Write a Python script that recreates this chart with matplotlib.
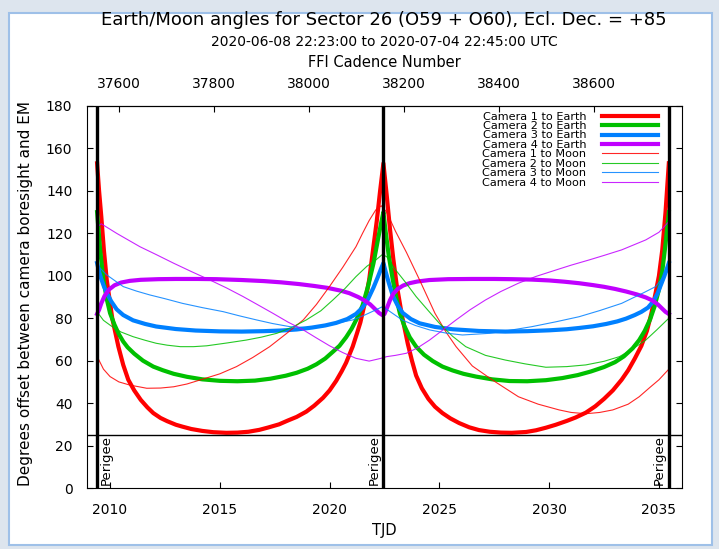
import matplotlib.pyplot as plt
from matplotlib.patches import Rectangle

# TJD of sector start, orbit perigee and sector end
perigee_tjd = [2009.41, 2022.45, 2035.45]
earth_limit = 25

# Camera-to-Earth angles (deg)
cam1_earth_tjd = [2009.41, 2009.5, 2009.6, 2009.72, 2009.85, 2010.1, 2010.38, 2010.6, 2010.83, 2011.1,
                  2011.4, 2011.7, 2011.97, 2012.3, 2012.6, 2013.0, 2013.3, 2013.7, 2014.2, 2014.7,
                  2015.3, 2015.8, 2016.3, 2016.8, 2017.2, 2017.7, 2018.1, 2018.5, 2018.94, 2019.3,
                  2019.7, 2020.0, 2020.3, 2020.55, 2020.75, 2021.05, 2021.25, 2021.4, 2021.6, 2021.8,
                  2022.0, 2022.15, 2022.3, 2022.45, 2022.6, 2022.75, 2022.9, 2023.05, 2023.3, 2023.56,
                  2023.75, 2023.94, 2024.2, 2024.5, 2024.8, 2025.14, 2025.5, 2025.9, 2026.36, 2026.8,
                  2027.3, 2027.8, 2028.3, 2028.95, 2029.4, 2029.85, 2030.3, 2030.8, 2031.2, 2031.67,
                  2032.1, 2032.5, 2032.9, 2033.3, 2033.6, 2033.9, 2034.2, 2034.45, 2034.65, 2034.85,
                  2035.0, 2035.15, 2035.3, 2035.45]
cam1_earth = [153, 140, 128, 112, 98, 80, 66.6, 58, 51, 46,
              41.5, 38, 35.3, 33, 31.5, 29.8, 28.9, 27.8, 26.9, 26.3,
              26.0, 26.1, 26.5, 27.4, 28.5, 30, 31.8, 33.5, 36, 38.8,
              42.5, 46, 50.5, 55, 59, 66.6, 73, 78, 87, 98,
              114, 126, 140, 153, 138, 122, 108, 96, 81, 68,
              60, 53, 47, 42, 38.3, 35.3, 32.8, 30.6, 28.6, 27.3,
              26.5, 26.1, 26.0, 26.4, 27.2, 28.4, 29.8, 31.6, 33.2, 35.5,
              38.5, 42, 46, 51, 55.5, 61, 67, 74, 82, 92,
              100, 112, 130, 153]

cam2_earth_tjd = [2009.41, 2009.55, 2009.7, 2009.85, 2010.0, 2010.2, 2010.4, 2010.6, 2010.8, 2011.1,
                  2011.5, 2011.97, 2012.4, 2012.9, 2013.5, 2014.2, 2015.0, 2015.8, 2016.6, 2017.3,
                  2018.0, 2018.5, 2019.0, 2019.4, 2019.8, 2020.15, 2020.45, 2020.75, 2021.0, 2021.25,
                  2021.5, 2021.75, 2022.0, 2022.2, 2022.35, 2022.45, 2022.55, 2022.7, 2022.88, 2023.05,
                  2023.2, 2023.4, 2023.65, 2023.94, 2024.3, 2024.7, 2025.14, 2025.6, 2026.1, 2026.67,
                  2027.4, 2028.2, 2029.0, 2029.85, 2030.6, 2031.3, 2031.9, 2032.5, 2033.0, 2033.4,
                  2033.8, 2034.1, 2034.35, 2034.6, 2034.8, 2035.0, 2035.15, 2035.3, 2035.45]
cam2_earth = [130, 112, 98, 89, 82.4, 77, 72.5, 69, 66.3, 63.3,
              60, 57.2, 55.5, 53.8, 52.4, 51.2, 50.5, 50.3, 50.6, 51.5,
              52.9, 54.3, 56.2, 58.3, 61, 64.2, 67, 71, 75, 80,
              86, 95, 106, 117, 125, 130, 121, 109, 98, 89,
              82.3, 76.5, 71, 66.6, 62.8, 59.8, 57.2, 55.4, 53.8, 52.5,
              51.2, 50.4, 50.3, 50.8, 51.8, 53.2, 54.9, 57, 59.3, 62,
              65.8, 69.7, 74, 79.5, 85.5, 93.5, 102, 115, 130]

cam3_earth_tjd = [2009.41, 2009.5, 2009.6, 2009.72, 2009.85, 2010.05, 2010.3, 2010.6, 2011.05, 2011.6,
                  2012.1, 2013.0, 2013.9, 2015.0, 2016.0, 2017.0, 2017.8, 2018.5, 2019.2, 2019.8,
                  2020.3, 2020.8, 2021.2, 2021.5, 2021.75, 2022.0, 2022.2, 2022.35, 2022.45, 2022.55,
                  2022.7, 2022.88, 2023.1, 2023.33, 2023.7, 2024.1, 2024.8, 2025.6, 2026.8, 2028.0,
                  2029.0, 2030.0, 2030.8, 2031.36, 2032.0, 2032.6, 2033.1, 2033.5, 2033.9, 2034.2,
                  2034.5, 2034.75, 2034.95, 2035.1, 2035.25, 2035.45]
cam3_earth = [106, 102, 98.5, 95, 92, 88, 84.2, 81.5, 79, 77.3,
              76.1, 74.9, 74.2, 73.8, 73.7, 73.9, 74.2, 74.7, 75.6, 76.6,
              77.8, 79.6, 82, 85, 89, 94.5, 99.5, 103.5, 106, 102,
              96.5, 90.5, 86, 82.5, 79.6, 77.6, 75.9, 74.8, 74, 73.7,
              73.9, 74.3, 74.8, 75.4, 76.2, 77.3, 78.5, 79.8, 81.5, 83,
              85, 88, 92, 96, 100, 106]

cam4_earth_tjd = [2009.41, 2009.5, 2009.6, 2009.75, 2009.95, 2010.2, 2010.5, 2010.9, 2011.4, 2012.2,
                  2013.0, 2014.0, 2014.85, 2016.0, 2017.0, 2017.8, 2018.6, 2019.3, 2019.9, 2020.5,
                  2020.9, 2021.3, 2021.6, 2021.85, 2022.05, 2022.25, 2022.4, 2022.5, 2022.6, 2022.75,
                  2022.9, 2023.1, 2023.35, 2023.64, 2024.0, 2024.55, 2025.4, 2026.5, 2027.5, 2028.3,
                  2029.2, 2030.0, 2030.7, 2031.36, 2032.0, 2032.5, 2033.0, 2033.5, 2034.0, 2034.4,
                  2034.7, 2034.95, 2035.15, 2035.3, 2035.45]
cam4_earth = [82, 84, 87, 90.5, 93.5, 95.5, 96.8, 97.6, 98.1, 98.4,
              98.5, 98.5, 98.4, 98.0, 97.5, 96.9, 96.1, 95.2, 94.3, 93,
              91.8, 90, 88.3, 86.5, 84.5, 82.5, 81.5, 82, 84.5, 88.5,
              91.5, 93.8, 95.4, 96.5, 97.3, 98, 98.4, 98.5, 98.5, 98.4,
              98.2, 97.8, 97.2, 96.5, 95.6, 94.8, 93.8, 92.6, 91.2, 89.8,
              88.4, 86.5, 84.5, 83, 82]

# Camera-to-Moon angles (deg)
cam1_moon_tjd = [2009.41, 2009.7, 2010.0, 2010.4, 2010.9, 2011.67, 2012.3, 2012.9, 2013.5, 2014.1,
                 2015.0, 2015.76, 2016.5, 2017.27, 2018.0, 2018.8, 2019.4, 2020.0, 2020.6, 2021.2,
                 2021.5, 2021.8, 2022.1, 2022.35, 2022.6, 2023.0, 2023.5, 2024.1, 2024.8, 2025.3,
                 2025.76, 2026.5, 2027.4, 2028.0, 2028.6, 2029.5, 2030.45, 2031.0, 2031.67, 2032.3,
                 2032.9, 2033.6, 2034.1, 2034.6, 2035.0, 2035.45]
cam1_moon = [62, 56, 52.5, 50, 48.5, 47, 47.1, 47.7, 49, 50.9,
             53.8, 57.2, 61.5, 66.6, 72.5, 79.2, 86.5, 95, 104, 113.7,
             120, 126, 131, 133, 130, 121, 111, 98, 82.3, 73.5,
             66.6, 57.5, 51, 47, 43, 39.5, 36.8, 35.6, 35, 35.6,
             36.8, 39.5, 43, 47.5, 51, 56]

cam2_moon_tjd = [2009.41, 2009.7, 2010.1, 2010.5, 2011.05, 2011.6, 2012.1, 2012.6, 2013.2, 2013.8,
                 2014.4, 2015.3, 2016.2, 2016.9, 2017.6, 2018.3, 2018.94, 2019.6, 2020.15, 2020.7,
                 2021.2, 2021.7, 2022.1, 2022.4, 2022.6, 2022.95, 2023.45, 2023.94, 2024.5, 2025.0,
                 2025.6, 2026.2, 2027.1, 2028.0, 2028.9, 2029.85, 2030.8, 2031.67, 2032.5, 2033.2,
                 2033.8, 2034.4, 2034.9, 2035.45]
cam2_moon = [83, 79, 76, 73.5, 71.3, 69.6, 68.2, 67.3, 66.6, 66.6,
             67, 68.3, 69.7, 71.1, 72.9, 75.8, 79.2, 83.5, 88.6, 94,
             99.6, 104.5, 107.4, 110, 109, 103.5, 97, 90.2, 83.5, 77.6,
             71.5, 66.6, 62.5, 60.3, 58.5, 56.9, 57.2, 58, 59.7, 61.9,
             65.5, 69.7, 74.5, 80]

cam3_moon_tjd = [2009.41, 2009.85, 2010.6, 2011.2, 2011.8, 2012.5, 2013.3, 2014.2, 2015.15, 2015.9,
                 2016.67, 2017.4, 2018.2, 2019.0, 2019.7, 2020.4, 2021.06, 2021.6, 2022.1, 2022.4,
                 2022.7, 2023.3, 2023.9, 2024.55, 2025.3, 2026.05, 2027.3, 2028.2, 2029.2, 2030.3,
                 2031.36, 2032.3, 2033.3, 2034.3, 2034.85, 2035.45]
cam3_moon = [105, 100.4, 94.9, 92.8, 91, 89.2, 87, 85, 83.1, 81.1,
             79.2, 77.5, 76, 75.6, 76, 77.8, 79.2, 81.5, 83.9, 85.4,
             83.5, 79.2, 76.6, 74.5, 73, 72.1, 72.9, 74.3, 76, 78.3,
             80.7, 83.6, 87, 92, 94.9, 102.7]

cam4_moon_tjd = [2009.41, 2009.6, 2010.3, 2011.36, 2012.1, 2012.9, 2013.7, 2014.55, 2015.3, 2016.06,
                 2016.7, 2017.42, 2018.1, 2018.8, 2019.4, 2020.0, 2020.6, 2021.2, 2021.8, 2022.3,
                 2022.6, 2023.0, 2023.5, 2024.0, 2024.55, 2025.1, 2025.76, 2026.4, 2027.1, 2027.8,
                 2028.6, 2029.4, 2030.3, 2031.0, 2031.8, 2032.5, 2033.3, 2034.4, 2035.0, 2035.45]
cam4_moon = [123, 124.5, 120, 113.7, 110, 105.9, 102, 98, 94.3, 90.2,
             86.5, 82.3, 78.2, 74.5, 70.7, 67, 63.8, 61.1, 59.8, 61,
             61.9, 62.5, 63.5, 66, 69.7, 74, 79.2, 84, 88.6, 92.6,
             96.5, 99.7, 102.7, 105, 107.4, 109.6, 112.2, 116.9, 120.5, 125.5]

# FFI cadence number vs TJD
cadence_ref = 37600
cadence_ref_tjd = 2010.41
cadences_per_day = 46.2
cadence_ticks = [37600, 37800, 38000, 38200, 38400, 38600]

colors = ["#ff0000", "#00c000", "#0080ff", "#c000ff"]
earth_series = [(cam1_earth_tjd, cam1_earth), (cam2_earth_tjd, cam2_earth),
                (cam3_earth_tjd, cam3_earth), (cam4_earth_tjd, cam4_earth)]
moon_series = [(cam1_moon_tjd, cam1_moon), (cam2_moon_tjd, cam2_moon),
               (cam3_moon_tjd, cam3_moon), (cam4_moon_tjd, cam4_moon)]

fig = plt.figure(figsize=(7.19, 5.49), dpi=100)
fig.patch.set_facecolor("#dde5ee")
# white panel with a light blue frame behind the plot
fig.patches.append(Rectangle((9 / 719, 4 / 549), 703 / 719, 532 / 549, transform=fig.transFigure,
                             facecolor="white", edgecolor="#9ec0e8", linewidth=1.5, zorder=-10))

ax = fig.add_axes([87 / 719, 61 / 549, 595 / 719, 382 / 549])
ax.set_zorder(1)

for i, (t, d) in enumerate(earth_series):
    ax.plot(t, d, color=colors[i], linewidth=3.0, solid_joinstyle="round",
            label=f"Camera {i + 1} to Earth")
for i, (t, d) in enumerate(moon_series):
    ax.plot(t, d, color=colors[i], linewidth=0.8, alpha=0.85, label=f"Camera {i + 1} to Moon")

for k, t in enumerate(perigee_tjd):
    ax.axvline(t, color="black", linewidth=2.4, zorder=5)
    if k == 0:
        ax.text(t + 0.12, 1.5, "Perigee", rotation=90, ha="left", va="bottom", fontsize=9.5)
    else:
        ax.text(t - 0.12, 1.5, "Perigee", rotation=90, ha="right", va="bottom", fontsize=9.5)
ax.axhline(earth_limit, color="black", linewidth=1.0)

ax.set_xlim(2008.95, 2036.05)
ax.set_ylim(0, 180)
ax.set_xticks(range(2010, 2036, 5))
ax.set_yticks(range(0, 181, 20))
ax.tick_params(direction="in", length=4, labelsize=10, right=True, top=False, pad=10.5)
ax.set_xlabel("TJD", fontsize=10.5)
ax.xaxis.set_label_coords(0.5, -0.092)
ax.set_ylabel("Degrees offset between camera boresight and EM", fontsize=11)
ax.yaxis.set_label_coords(-0.09, 0.51)

top = ax.secondary_xaxis(
    "top",
    functions=(lambda t: cadence_ref + (t - cadence_ref_tjd) * cadences_per_day,
               lambda c: cadence_ref_tjd + (c - cadence_ref) / cadences_per_day))
top.set_xticks(cadence_ticks)
top.tick_params(direction="in", length=4, labelsize=10, pad=11)
top.set_xlabel("FFI Cadence Number", fontsize=10.5, labelpad=7)

ax.legend(loc="upper right", bbox_to_anchor=(0.973, 1.006), frameon=False, fontsize=8.1,
          markerfirst=False, handlelength=5.0, handletextpad=1.4, labelspacing=-0.05,
          borderpad=0.2)

fig.text(0.534, 0.963, "Earth/Moon angles for Sector 26 (O59 + O60), Ecl. Dec. = +85",
         ha="center", va="center", fontsize=13)
fig.text(0.534, 0.923, "2020-06-08 22:23:00 to 2020-07-04 22:45:00 UTC",
         ha="center", va="center", fontsize=10)

fig.savefig("out.png", dpi=100, facecolor=fig.get_facecolor())
